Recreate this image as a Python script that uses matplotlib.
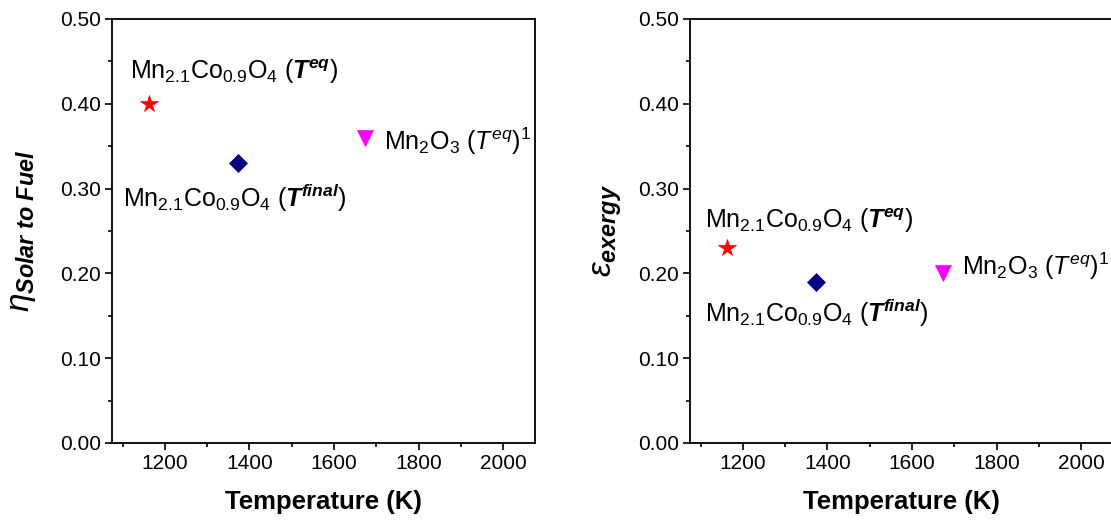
import matplotlib
matplotlib.use('Agg')
import matplotlib.pyplot as plt
from matplotlib.ticker import MultipleLocator, FormatStrFormatter

plt.rcParams['font.family'] = ['Liberation Sans', 'DejaVu Sans']
plt.rcParams['mathtext.fontset'] = 'custom'
plt.rcParams['mathtext.rm'] = 'Liberation Sans'
plt.rcParams['mathtext.it'] = 'Liberation Sans:italic'
plt.rcParams['mathtext.bf'] = 'Liberation Sans:bold'
plt.rcParams['mathtext.bfit'] = 'Liberation Sans:italic:bold'

# data
temps = [1163, 1373, 1673]
eta_solar = [0.40, 0.33, 0.36]
eps_exergy = [0.23, 0.19, 0.20]
markers = ['*', 'D', 'v']
colors = ['red', '#000080', 'magenta']
msizes = [13, 9, 11]

lab_eq = r'Mn$_{2.1}$Co$_{0.9}$O$_4$ ($\mathbfit{T}^{\mathbfit{eq}}$)'
lab_final = r'Mn$_{2.1}$Co$_{0.9}$O$_4$ ($\mathbfit{T}^{\mathbfit{final}}$)'
lab_mn2o3 = r'Mn$_2$O$_3$ ($\mathit{T}^{\mathit{eq}}$)$^1$'
labels = [lab_eq, lab_final, lab_mn2o3]

# label anchor positions (x, y) for each panel
pos_left = [(1118, 0.429), (1101, 0.278), (1718, 0.3455)]
pos_right = [(1110, 0.2535), (1110, 0.1427), (1717, 0.198)]

fig = plt.figure(figsize=(11.11, 5.21), dpi=100)
ax1 = fig.add_axes([112 / 1111, 78 / 521, 423 / 1111, 424 / 521])
ax2 = fig.add_axes([690 / 1111, 78 / 521, 423 / 1111, 424 / 521])

panels = [(ax1, eta_solar, pos_left, r'$\eta_{\mathbfit{Solar\ to\ Fuel}}$', 16),
          (ax2, eps_exergy, pos_right, r'$\varepsilon_{\mathbfit{exergy}}$', 10)]

for ax, vals, pos, ylab, lpad in panels:
    for t, v, m, c, s in zip(temps, vals, markers, colors, msizes):
        ax.plot(t, v, marker=m, color=c, markersize=s, linestyle='none', markeredgewidth=0.5)
    for (px, py), lab in zip(pos, labels):
        ax.text(px, py, lab, fontsize=18, ha='left', va='baseline')
    ax.set_xlim(1075, 2075)
    ax.set_ylim(0, 0.5)
    ax.xaxis.set_major_locator(MultipleLocator(200))
    ax.xaxis.set_minor_locator(MultipleLocator(100))
    ax.yaxis.set_major_locator(MultipleLocator(0.1))
    ax.yaxis.set_minor_locator(MultipleLocator(0.05))
    ax.yaxis.set_major_formatter(FormatStrFormatter('%.2f'))
    ax.tick_params(which='major', direction='out', length=5, width=1.2, labelsize=15, pad=3)
    ax.tick_params(which='minor', direction='out', length=3, width=1.2)
    for sp in ax.spines.values():
        sp.set_linewidth(1.3)
    ax.set_xlabel('Temperature (K)', fontsize=18.5, fontweight='bold', labelpad=12)
    ax.set_ylabel(ylab, fontsize=24, labelpad=lpad)

fig.savefig('out.png', dpi=100)
